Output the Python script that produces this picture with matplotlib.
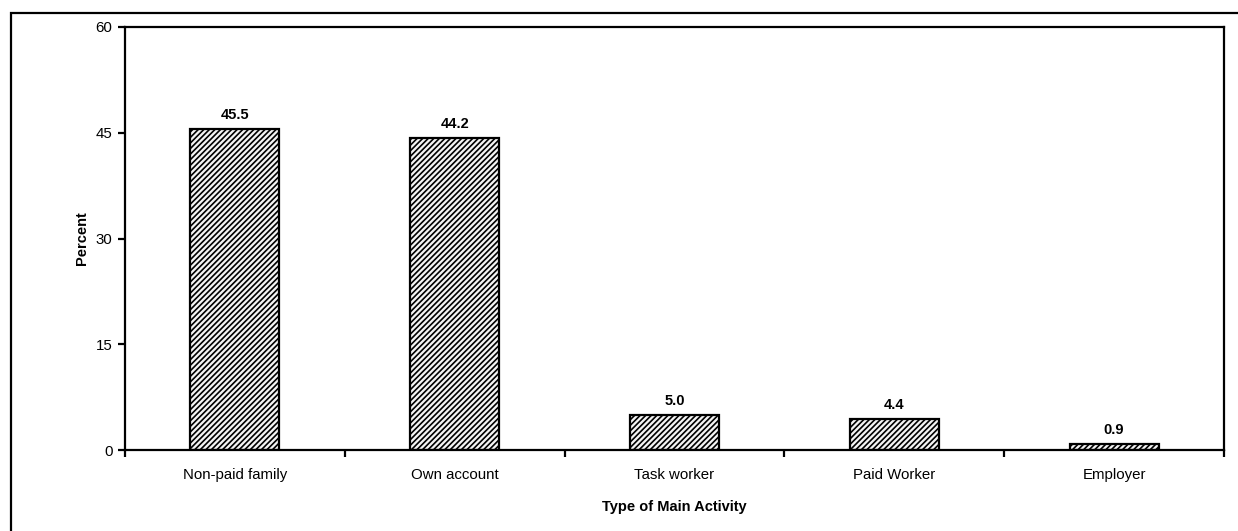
import matplotlib
matplotlib.use('Agg')
import matplotlib.pyplot as plt
from matplotlib.patches import Rectangle

plt.rcParams['font.family'] = ['Liberation Sans', 'DejaVu Sans']
plt.rcParams['hatch.linewidth'] = 1.2
plt.rcParams['hatch.color'] = '#333333'

categories = ['Non-paid family', 'Own account', 'Task worker', 'Paid Worker', 'Employer']
values = [45.5, 44.2, 5.0, 4.4, 0.9]
y_ticks = [0, 15, 30, 45, 60]

fig = plt.figure(figsize=(12.38, 5.31), dpi=100)
ax = fig.add_axes([125 / 1238, 1 - 450 / 531, (1224 - 125) / 1238, (450 - 27) / 531])

# outer chart frame (cut off at right and bottom like the original)
fig.patches.append(Rectangle((11 / 1238, -0.1), 1.2, 1 - 13 / 531 + 0.1,
                             transform=fig.transFigure, fill=False,
                             edgecolor='black', linewidth=1.6, zorder=0))

pos = list(range(len(categories)))
bars = ax.bar(pos, values, width=0.405, color='#f4f4f4', edgecolor='black',
              linewidth=1.6, hatch='//////')

for x, v in zip(pos, values):
    ax.text(x, v + 1.0, f'{v:.1f}', ha='center', va='bottom',
            fontsize=10.5, fontweight='bold')

ax.set_xlim(-0.5, len(categories) - 0.5)
ax.set_ylim(0, 60)
ax.set_yticks(y_ticks)
ax.set_xticks([p + 0.5 for p in [-1] + pos])
ax.set_xticklabels([])
ax.set_xticks(pos, minor=True)
ax.set_xticklabels(categories, minor=True)
ax.tick_params(axis='x', which='minor', length=0, pad=13, labelsize=10.8)
ax.tick_params(axis='x', which='major', direction='out', length=5, width=1.6)
ax.tick_params(axis='y', direction='out', length=5, width=1.6, labelsize=10.8, pad=4)

for s in ax.spines.values():
    s.set_linewidth(1.6)

ax.set_ylabel('Percent', fontsize=10.5, fontweight='bold', labelpad=5)
ax.set_xlabel('Type of Main Activity', fontsize=10.5, fontweight='bold', labelpad=13)

fig.savefig('out.png', dpi=100)
